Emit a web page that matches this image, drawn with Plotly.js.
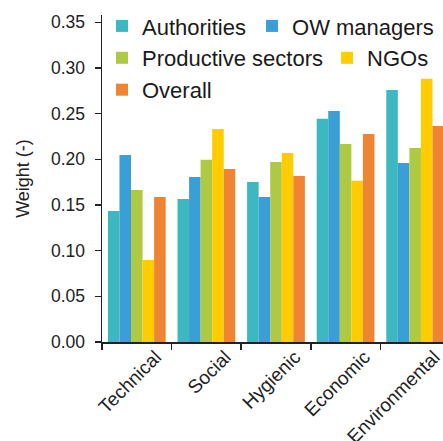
<!DOCTYPE html>
<html>
<head>
<meta charset="utf-8">
<script src="https://cdn.plot.ly/plotly-3.0.1.min.js"></script>
<style>
html,body{margin:0;padding:0;overflow:hidden;background:#fff;}
#chart{width:443px;height:441px;}
</style>
</head>
<body>
<div id="chart"></div>
<script>
const categories = ["Technical", "Social", "Hygienic", "Economic", "Environmental"];
const seriesNames = ["Authorities", "OW managers", "Productive sectors", "NGOs", "Overall"];
const authorities = [0.1435, 0.1566, 0.1753, 0.2443, 0.2760];
const owManagers = [0.2048, 0.1807, 0.1588, 0.2530, 0.1961];
const productiveSectors = [0.1665, 0.1994, 0.1972, 0.2169, 0.2125];
const ngos = [0.0898, 0.2333, 0.2070, 0.1764, 0.2881];
const overall = [0.1588, 0.1895, 0.1818, 0.2278, 0.2366];
const yTickValues = [0, 0.05, 0.10, 0.15, 0.20, 0.25, 0.30, 0.35];

const colors = ["#3db8c0", "#3a9fd6", "#afc945", "#ffcc00", "#ef8532"];
const legendIds = ["legend", "legend2", "legend3", "legend4", "legend5"];
const legendX = [0.0, 0.44, 0.0, 0.66, 0.0];
const legendY = [0.966, 0.966, 0.8685, 0.8685, 0.771];
const values = [authorities, owManagers, productiveSectors, ngos, overall];

const FONT = "Liberation Sans, Arial, sans-serif";

const traces = values.map((v, i) => ({
  type: "bar",
  name: seriesNames[i],
  x: categories,
  y: v,
  marker: {color: colors[i]},
  legend: legendIds[i],
  hoverinfo: "skip"
}));

const layout = {
  width: 443,
  height: 441,
  margin: {l: 102, r: 0, t: 15, b: 99, pad: 0},
  paper_bgcolor: "#ffffff",
  plot_bgcolor: "#ffffff",
  font: {family: FONT, size: 17, color: "#222"},
  barmode: "group",
  bargap: 0.17,
  bargroupgap: 0,
  showlegend: true,
  xaxis: {
    type: "category",
    range: [-0.5, 4.4],
    tickson: "boundaries",
    ticks: "outside",
    ticklen: 6,
    tickwidth: 1.5,
    tickcolor: "#222",
    showline: true,
    linecolor: "#222",
    linewidth: 1.5,
    showgrid: false,
    zeroline: false,
    tickangle: -45,
    ticklabelshift: 19,
    ticklabelstandoff: -5,
    tickfont: {family: FONT, size: 19, color: "#222"}
  },
  yaxis: {
    range: [0, 0.358],
    tickvals: yTickValues,
    tickformat: ".2f",
    ticks: "outside",
    ticklen: 6,
    tickwidth: 1.5,
    tickcolor: "#222",
    showline: true,
    linecolor: "#222",
    linewidth: 1.5,
    showgrid: false,
    zeroline: false,
    ticklabelstandoff: 6,
    tickfont: {family: FONT, size: 17.5, color: "#222"},
    title: {text: "Weight (-)", font: {family: FONT, size: 18, color: "#222"}, standoff: 16}
  }
};

legendIds.forEach((id, i) => {
  layout[id] = {
    orientation: "h",
    xanchor: "left",
    yanchor: "middle",
    x: legendX[i],
    y: legendY[i],
    bgcolor: "rgba(0,0,0,0)",
    borderwidth: 0,
    font: {family: FONT, size: 22, color: "#1a1a1a"}
  };
});

Plotly.newPlot("chart", traces, layout, {displayModeBar: false, staticPlot: true});
</script>
</body>
</html>
